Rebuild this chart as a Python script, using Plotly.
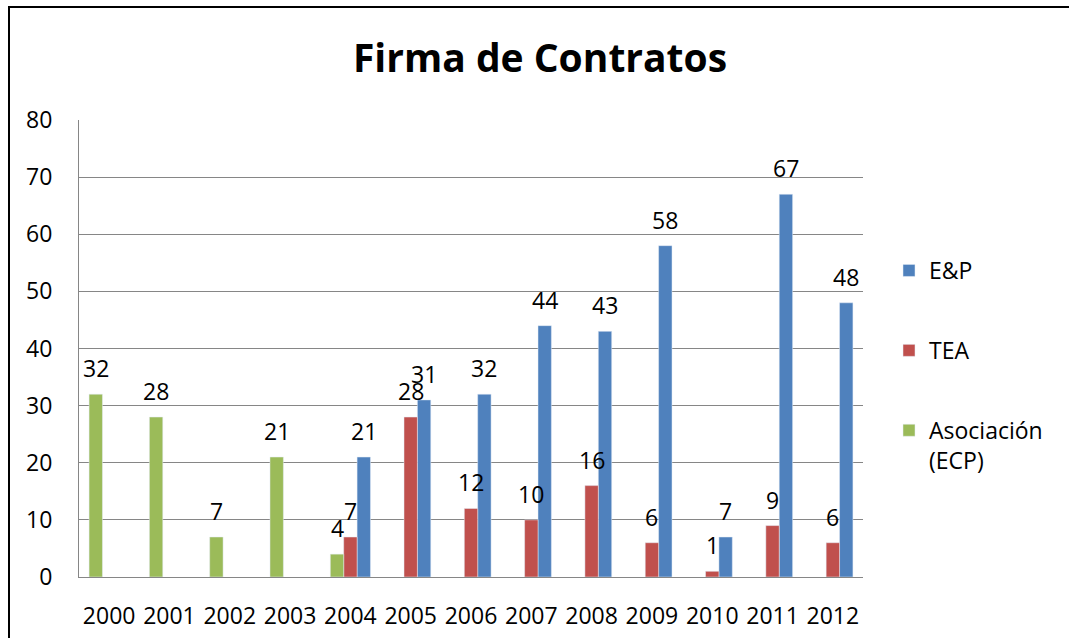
import plotly.graph_objects as go

years = ["2000", "2001", "2002", "2003", "2004", "2005", "2006",
         "2007", "2008", "2009", "2010", "2011", "2012"]
asociacion = [32, 28, 7, 21, 4, None, None, None, None, None, None, None, None]
tea = [None, None, None, None, 7, 28, 12, 10, 16, 6, 1, 9, 6]
ep = [None, None, None, None, 21, 31, 32, 44, 43, 58, 7, 67, 48]

series = [
    ("E&P", ep, "#4F81BD", 1),
    ("TEA", tea, "#C0504D", 0),
    ("Asociación<br>(ECP)", asociacion, "#9BBB59", -1),
]

FONT = "Open Sans"
BW = 0.222
idx = list(range(len(years)))

fig = go.Figure()
annotations = []
for k, (name, vals, color, slot) in enumerate(series):
    fig.add_trace(go.Bar(
        x=idx, y=vals, name=name, marker_color=color,
        width=BW, offset=slot * BW - BW / 2,
        legendgroup=f"g{k}", hoverinfo="skip",
    ))
    for i, v in zip(idx, vals):
        if v is None:
            continue
        annotations.append(dict(
            x=i + slot * BW, y=v, xref="x", yref="y", text=str(v),
            showarrow=False, yanchor="middle", yshift=26,
            font=dict(family=FONT, size=23, color="black"),
        ))

fig.update_layout(
    width=1069, height=638,
    margin=dict(l=79, r=206, t=120, b=61, autoexpand=False),
    paper_bgcolor="white", plot_bgcolor="white",
    barmode="overlay",
    font=dict(family=FONT, size=23, color="black"),
    title=dict(text="<b>Firma de Contratos</b>", x=540 / 1069, xanchor="center",
               y=1 - 58 / 638, yanchor="middle",
               font=dict(family=FONT, size=39, color="black")),
    xaxis=dict(tickmode="array", tickvals=idx, ticktext=years,
               range=[-0.5, len(years) - 0.5], showgrid=False,
               showline=True, linecolor="#868686", linewidth=1,
               ticks="", ticklabelstandoff=18, zeroline=False, automargin=False,
               tickfont=dict(family=FONT, size=23, color="black")),
    yaxis=dict(range=[0, 80], dtick=10, showgrid=True, gridcolor="#868686",
               gridwidth=1, showline=True, linecolor="#868686", linewidth=1,
               ticks="", ticklabelstandoff=21, zeroline=False, automargin=False,
               tickfont=dict(family=FONT, size=23, color="black")),
    legend=dict(x=(889 - 79) / 784, xanchor="left", y=(577 - 249) / 457,
                yanchor="top", traceorder="grouped", tracegroupgap=47,
                valign="top", bgcolor="rgba(0,0,0,0)",
                font=dict(family=FONT, size=23, color="black")),
    annotations=annotations,
    shapes=[dict(type="rect", xref="paper", yref="paper",
                 x0=(9 - 79) / 784, x1=(1080 - 79) / 784,
                 y0=(577 - 650) / 457, y1=(577 - 7) / 457,
                 line=dict(color="black", width=2), fillcolor="rgba(0,0,0,0)",
                 layer="below")],
)

fig.write_html("out.html", config={"displayModeBar": False},
               post_script="document.body.style.margin='0';")
